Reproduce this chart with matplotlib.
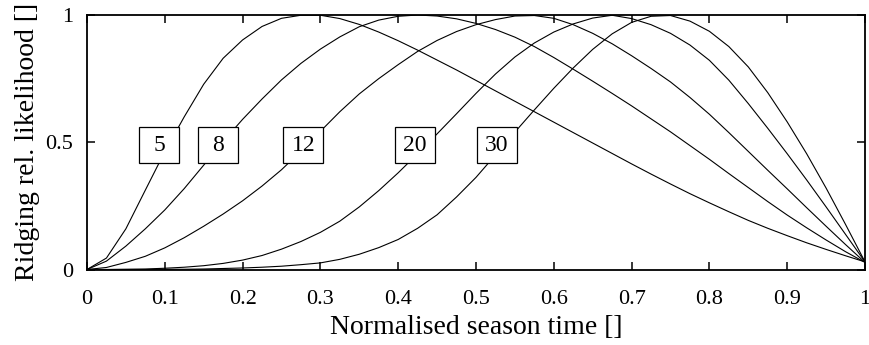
import numpy as np
import matplotlib
matplotlib.use("Agg")
import matplotlib.pyplot as plt
from matplotlib.patches import Rectangle
from matplotlib.ticker import FormatStrFormatter

plt.rcParams['font.family'] = ['Liberation Serif', 'DejaVu Serif']

# normalised season time, sampled every 0.025
season_time = np.linspace(0, 1, 41)

curve_5 = [0.000, 0.045, 0.160, 0.312, 0.463, 0.600, 0.728, 0.830, 0.902, 0.955,
           0.987, 0.999, 0.999, 0.986, 0.963, 0.933, 0.899, 0.862, 0.823, 0.784,
           0.743, 0.702, 0.661, 0.620, 0.579, 0.538, 0.497, 0.456, 0.415, 0.375,
           0.336, 0.298, 0.262, 0.227, 0.193, 0.162, 0.133, 0.105, 0.079, 0.054,
           0.030]
curve_8 = [0.000, 0.033, 0.092, 0.160, 0.234, 0.318, 0.410, 0.503, 0.590, 0.670,
           0.745, 0.810, 0.866, 0.914, 0.954, 0.980, 0.995, 1.000, 0.996, 0.985,
           0.967, 0.943, 0.913, 0.876, 0.833, 0.787, 0.740, 0.692, 0.643, 0.592,
           0.541, 0.487, 0.433, 0.377, 0.322, 0.267, 0.214, 0.164, 0.116, 0.070,
           0.028]
curve_12 = [0.000, 0.008, 0.028, 0.052, 0.085, 0.125, 0.170, 0.218, 0.270, 0.328,
            0.392, 0.465, 0.543, 0.620, 0.690, 0.750, 0.805, 0.857, 0.900, 0.935,
            0.962, 0.982, 0.996, 0.998, 0.987, 0.962, 0.928, 0.887, 0.840, 0.790,
            0.737, 0.676, 0.610, 0.538, 0.464, 0.390, 0.317, 0.243, 0.170, 0.098,
            0.028]
curve_20 = [0.000, 0.000, 0.001, 0.002, 0.005, 0.009, 0.015, 0.024, 0.037, 0.055,
            0.080, 0.110, 0.146, 0.190, 0.246, 0.310, 0.380, 0.455, 0.533, 0.612,
            0.692, 0.768, 0.835, 0.890, 0.933, 0.965, 0.988, 0.999, 0.986, 0.962,
            0.928, 0.882, 0.822, 0.744, 0.652, 0.555, 0.455, 0.352, 0.246, 0.138,
            0.030]
curve_30 = [0.000, 0.000, 0.000, 0.000, 0.001, 0.001, 0.002, 0.004, 0.006, 0.009,
            0.013, 0.019, 0.026, 0.040, 0.060, 0.086, 0.118, 0.162, 0.215, 0.285,
            0.362, 0.450, 0.540, 0.627, 0.712, 0.792, 0.865, 0.926, 0.971, 0.995,
            0.998, 0.976, 0.936, 0.876, 0.796, 0.695, 0.580, 0.455, 0.320, 0.177,
            0.030]

curves = [curve_5, curve_8, curve_12, curve_20, curve_30]
labels = ["5", "8", "12", "20", "30"]
label_x = [0.093, 0.169, 0.278, 0.4216, 0.527]
label_y = 0.489

fig = plt.figure(figsize=(8.69, 3.45), dpi=100)
ax = fig.add_axes([0.1001, 0.2188, 0.8953, 0.7377])

for c in curves:
    ax.plot(season_time, c, color='black', lw=0.8, zorder=2)

# boxed labels, fixed size in pixels (40 x 36)
bw = 40 / 778.0
bh = 36 / 254.5
for lab, lx in zip(labels, label_x):
    ax.add_patch(Rectangle((lx - bw / 2, label_y - bh / 2), bw, bh,
                           facecolor='white', edgecolor='black', lw=0.9, zorder=3))
    ax.text(lx, label_y, lab, ha='center', va='center', fontsize=17, zorder=4)

ax.set_xlim(0, 1)
ax.set_ylim(0, 1)
ax.set_xticks(np.arange(0, 1.01, 0.1))
ax.set_yticks([0, 0.5, 1])
ax.xaxis.set_major_formatter(FormatStrFormatter('%g'))
ax.yaxis.set_major_formatter(FormatStrFormatter('%g'))
ax.tick_params(direction='in', length=6, width=1.1, top=True, right=True,
               labelsize=16)
ax.tick_params(axis='x', pad=15)
ax.tick_params(axis='y', pad=10)
for s in ax.spines.values():
    s.set_linewidth(1.3)

ax.set_xlabel("Normalised season time []", fontsize=20, labelpad=4)
ax.set_ylabel("Ridging rel. likelihood []", fontsize=20, labelpad=4)

fig.savefig("out.png", dpi=100)
